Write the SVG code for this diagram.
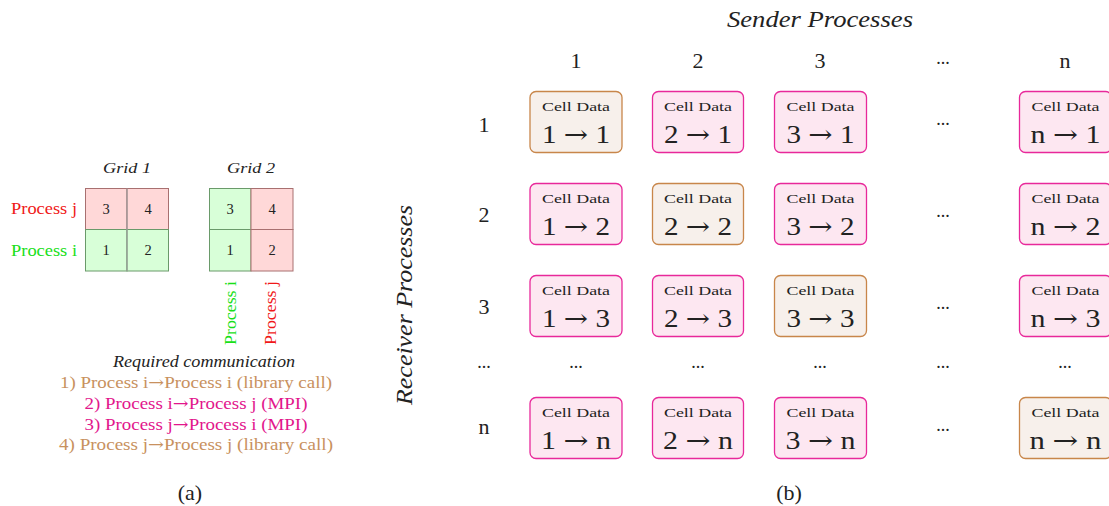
<svg xmlns="http://www.w3.org/2000/svg" width="1109" height="506" viewBox="0 0 1109 506">
<style>
text{font-family:"Liberation Serif","DejaVu Serif",serif;fill:#222}
.it{font-style:italic}
.lbl{font-size:22px;text-anchor:middle}
.cd{font-size:13px;text-anchor:middle}
.ar{font-size:25px;text-anchor:middle}
.a{font-family:"DejaVu Serif",serif}
.gn{font-size:14.5px;text-anchor:middle}
.red{fill:#f01818}
.grn{fill:#18e018}
.brn{fill:#c8915e}
.mag{fill:#e2168c}
.bx-m{fill:#fde7f1;stroke:#e8289a;stroke-width:1.3}
.bx-b{fill:#f7f0eb;stroke:#c8864a;stroke-width:1.3}
.cp{fill:#ffd8d8;stroke:#a87070;stroke-width:1}
.cg{fill:#d8ffd8;stroke:#6a9a6a;stroke-width:1}
.dots{font-size:18px;text-anchor:middle}
</style>

<!-- Part (a) -->
<g id="grid1">
<rect class="cp" x="85.5" y="188.5" width="41.5" height="41"/>
<rect class="cp" x="127" y="188.5" width="41.5" height="41"/>
<rect class="cg" x="85.5" y="229.5" width="41.5" height="41.5"/>
<rect class="cg" x="127" y="229.5" width="41.5" height="41.5"/>
<line x1="127" y1="188.5" x2="127" y2="271" stroke="#a0a0a0" stroke-width="1.2"/>
<text class="gn" x="106" y="214">3</text>
<text class="gn" x="148" y="214">4</text>
<text class="gn" x="106" y="255">1</text>
<text class="gn" x="148" y="255">2</text>
<text class="it" x="127" y="173" font-size="15" text-anchor="middle" textLength="48" lengthAdjust="spacingAndGlyphs">Grid 1</text>
</g>
<g id="grid2">
<rect class="cg" x="209.5" y="188.5" width="41.5" height="41"/>
<rect class="cp" x="251" y="188.5" width="42" height="41"/>
<rect class="cg" x="209.5" y="229.5" width="41.5" height="41.5"/>
<rect class="cp" x="251" y="229.5" width="42" height="41.5"/>
<text class="gn" x="230" y="214">3</text>
<text class="gn" x="272" y="214">4</text>
<text class="gn" x="230" y="255">1</text>
<text class="gn" x="272" y="255">2</text>
<text class="it" x="251" y="173" font-size="15" text-anchor="middle" textLength="48" lengthAdjust="spacingAndGlyphs">Grid 2</text>
</g>
<g id="proc-labels">
<text class="red" x="77" y="214" font-size="16.5" text-anchor="end" textLength="66" lengthAdjust="spacingAndGlyphs">Process j</text>
<text class="grn" x="77" y="256" font-size="16.5" text-anchor="end" textLength="66" lengthAdjust="spacingAndGlyphs">Process i</text>
<text class="grn" transform="translate(236,313) rotate(-90)" font-size="16.5" text-anchor="middle" textLength="64" lengthAdjust="spacingAndGlyphs">Process i</text>
<text class="red" transform="translate(276,313) rotate(-90)" font-size="16.5" text-anchor="middle" textLength="64" lengthAdjust="spacingAndGlyphs">Process j</text>
</g>
<g id="required">
<text class="it" x="204" y="367" font-size="16" text-anchor="middle" textLength="182" lengthAdjust="spacingAndGlyphs">Required communication</text>
<text class="brn" x="196" y="388" font-size="16.5" text-anchor="middle" textLength="272" lengthAdjust="spacingAndGlyphs">1) Process i<tspan class="a">→</tspan>Process i (library call)</text>
<text class="mag" x="196" y="409" font-size="16.5" text-anchor="middle" textLength="223" lengthAdjust="spacingAndGlyphs">2) Process i<tspan class="a">→</tspan>Process j (MPI)</text>
<text class="mag" x="196" y="430" font-size="16.5" text-anchor="middle" textLength="223" lengthAdjust="spacingAndGlyphs">3) Process j<tspan class="a">→</tspan>Process i (MPI)</text>
<text class="brn" x="196" y="450" font-size="16.5" text-anchor="middle" textLength="274" lengthAdjust="spacingAndGlyphs">4) Process j<tspan class="a">→</tspan>Process j (library call)</text>
<text x="190" y="500" font-size="22" text-anchor="middle">(a)</text>
</g>

<!-- Part (b) -->
<g id="axes">
<text class="it" x="820" y="27" font-size="23" text-anchor="middle" textLength="186" lengthAdjust="spacingAndGlyphs">Sender Processes</text>
<text class="it" transform="translate(412,305) rotate(-90)" font-size="23" text-anchor="middle" textLength="200" lengthAdjust="spacingAndGlyphs">Receiver Processes</text>
<text class="lbl" x="576" y="68">1</text>
<text class="lbl" x="698" y="68">2</text>
<text class="lbl" x="820" y="68">3</text>
<text class="dots" x="943" y="64">...</text>
<text class="lbl" x="1065" y="68">n</text>
<text class="lbl" x="484" y="132">1</text>
<text class="lbl" x="484" y="222">2</text>
<text class="lbl" x="484" y="314">3</text>
<text class="dots" x="484" y="368">...</text>
<text class="lbl" x="484" y="434">n</text>
</g>

<g id="dots-b">
<text class="dots" x="943" y="125">...</text>
<text class="dots" x="943" y="217">...</text>
<text class="dots" x="943" y="309">...</text>
<text class="dots" x="576" y="368">...</text>
<text class="dots" x="698" y="368">...</text>
<text class="dots" x="820" y="368">...</text>
<text class="dots" x="943" y="368">...</text>
<text class="dots" x="1065" y="368">...</text>
<text class="dots" x="943" y="431">...</text>
</g>

<g id="c11"><rect class="bx-b" x="530" y="91.5" width="92" height="61" rx="6"/><text class="cd" x="576" y="111" textLength="68" lengthAdjust="spacingAndGlyphs">Cell  Data</text><text class="ar" x="576" y="143" textLength="68" lengthAdjust="spacingAndGlyphs">1 <tspan class="a">→</tspan> 1</text></g>
<g id="c21"><rect class="bx-m" x="652.5" y="91.5" width="91" height="61" rx="6"/><text class="cd" x="698" y="111" textLength="68" lengthAdjust="spacingAndGlyphs">Cell  Data</text><text class="ar" x="698" y="143" textLength="68" lengthAdjust="spacingAndGlyphs">2 <tspan class="a">→</tspan> 1</text></g>
<g id="c31"><rect class="bx-m" x="774.5" y="91.5" width="92" height="61" rx="6"/><text class="cd" x="820.5" y="111" textLength="68" lengthAdjust="spacingAndGlyphs">Cell  Data</text><text class="ar" x="820.5" y="143" textLength="68" lengthAdjust="spacingAndGlyphs">3 <tspan class="a">→</tspan> 1</text></g>
<g id="cn1"><rect class="bx-m" x="1019.5" y="91.5" width="92" height="61" rx="6"/><text class="cd" x="1065.5" y="111" textLength="68" lengthAdjust="spacingAndGlyphs">Cell  Data</text><text class="ar" x="1065.5" y="143" textLength="70" lengthAdjust="spacingAndGlyphs">n <tspan class="a">→</tspan> 1</text></g>

<g id="c12"><rect class="bx-m" x="530" y="183.5" width="92" height="61" rx="6"/><text class="cd" x="576" y="203" textLength="68" lengthAdjust="spacingAndGlyphs">Cell  Data</text><text class="ar" x="576" y="235" textLength="68" lengthAdjust="spacingAndGlyphs">1 <tspan class="a">→</tspan> 2</text></g>
<g id="c22"><rect class="bx-b" x="652.5" y="183.5" width="91" height="61" rx="6"/><text class="cd" x="698" y="203" textLength="68" lengthAdjust="spacingAndGlyphs">Cell  Data</text><text class="ar" x="698" y="235" textLength="68" lengthAdjust="spacingAndGlyphs">2 <tspan class="a">→</tspan> 2</text></g>
<g id="c32"><rect class="bx-m" x="774.5" y="183.5" width="92" height="61" rx="6"/><text class="cd" x="820.5" y="203" textLength="68" lengthAdjust="spacingAndGlyphs">Cell  Data</text><text class="ar" x="820.5" y="235" textLength="68" lengthAdjust="spacingAndGlyphs">3 <tspan class="a">→</tspan> 2</text></g>
<g id="cn2"><rect class="bx-m" x="1019.5" y="183.5" width="92" height="61" rx="6"/><text class="cd" x="1065.5" y="203" textLength="68" lengthAdjust="spacingAndGlyphs">Cell  Data</text><text class="ar" x="1065.5" y="235" textLength="70" lengthAdjust="spacingAndGlyphs">n <tspan class="a">→</tspan> 2</text></g>

<g id="c13"><rect class="bx-m" x="530" y="275.5" width="92" height="61" rx="6"/><text class="cd" x="576" y="295" textLength="68" lengthAdjust="spacingAndGlyphs">Cell  Data</text><text class="ar" x="576" y="327" textLength="68" lengthAdjust="spacingAndGlyphs">1 <tspan class="a">→</tspan> 3</text></g>
<g id="c23"><rect class="bx-m" x="652.5" y="275.5" width="91" height="61" rx="6"/><text class="cd" x="698" y="295" textLength="68" lengthAdjust="spacingAndGlyphs">Cell  Data</text><text class="ar" x="698" y="327" textLength="68" lengthAdjust="spacingAndGlyphs">2 <tspan class="a">→</tspan> 3</text></g>
<g id="c33"><rect class="bx-b" x="774.5" y="275.5" width="92" height="61" rx="6"/><text class="cd" x="820.5" y="295" textLength="68" lengthAdjust="spacingAndGlyphs">Cell  Data</text><text class="ar" x="820.5" y="327" textLength="68" lengthAdjust="spacingAndGlyphs">3 <tspan class="a">→</tspan> 3</text></g>
<g id="cn3"><rect class="bx-m" x="1019.5" y="275.5" width="92" height="61" rx="6"/><text class="cd" x="1065.5" y="295" textLength="68" lengthAdjust="spacingAndGlyphs">Cell  Data</text><text class="ar" x="1065.5" y="327" textLength="70" lengthAdjust="spacingAndGlyphs">n <tspan class="a">→</tspan> 3</text></g>

<g id="c1n"><rect class="bx-m" x="530" y="397.5" width="92" height="61" rx="6"/><text class="cd" x="576" y="417" textLength="68" lengthAdjust="spacingAndGlyphs">Cell  Data</text><text class="ar" x="576" y="449" textLength="70" lengthAdjust="spacingAndGlyphs">1 <tspan class="a">→</tspan> n</text></g>
<g id="c2n"><rect class="bx-m" x="652.5" y="397.5" width="91" height="61" rx="6"/><text class="cd" x="698" y="417" textLength="68" lengthAdjust="spacingAndGlyphs">Cell  Data</text><text class="ar" x="698" y="449" textLength="70" lengthAdjust="spacingAndGlyphs">2 <tspan class="a">→</tspan> n</text></g>
<g id="c3n"><rect class="bx-m" x="774.5" y="397.5" width="92" height="61" rx="6"/><text class="cd" x="820.5" y="417" textLength="68" lengthAdjust="spacingAndGlyphs">Cell  Data</text><text class="ar" x="820.5" y="449" textLength="70" lengthAdjust="spacingAndGlyphs">3 <tspan class="a">→</tspan> n</text></g>
<g id="cnn"><rect class="bx-b" x="1019.5" y="397.5" width="92" height="61" rx="6"/><text class="cd" x="1065.5" y="417" textLength="68" lengthAdjust="spacingAndGlyphs">Cell  Data</text><text class="ar" x="1065.5" y="449" textLength="72" lengthAdjust="spacingAndGlyphs">n <tspan class="a">→</tspan> n</text></g>

<g id="connectors"></g>
<text x="789" y="500" font-size="22" text-anchor="middle">(b)</text>
</svg>
